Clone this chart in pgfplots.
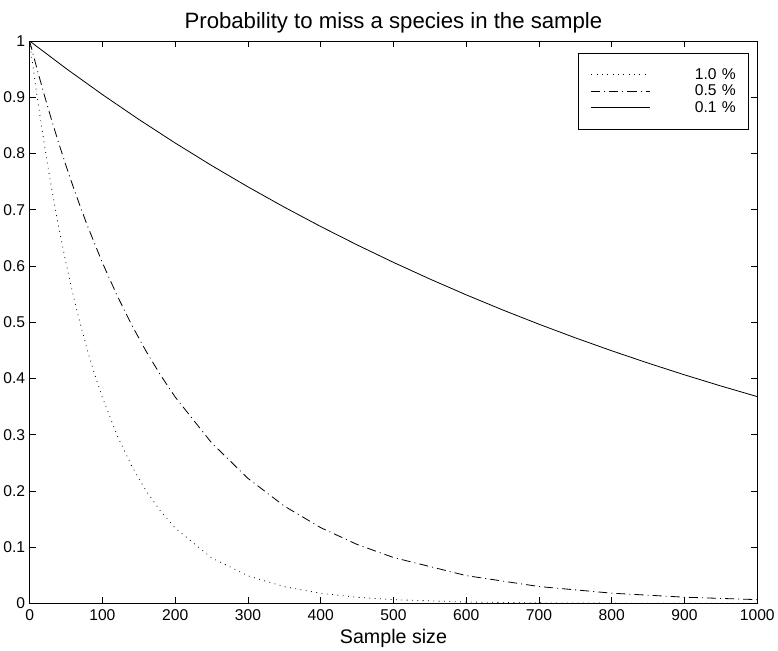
\documentclass[border=0pt]{standalone}
\usepackage{fontspec}
\setmainfont{Liberation Sans}
\usepackage{pgfplots}
\pgfplotsset{compat=1.18}
\begin{document}
\begin{tikzpicture}
\begin{axis}[width=722pt,height=558pt,scale only axis,
 xmin=0,xmax=1000,ymin=0,ymax=1,
 xtick={0,100,...,1000},ytick={0,0.1,...,1},
 yticklabels={0,0.1,0.2,0.3,0.4,0.5,0.6,0.7,0.8,0.9,1},
 tick align=inside,major tick length=6pt,
 /pgf/number format/assume math mode=true,
 /pgf/number format/set thousands separator={},
 scaled ticks=false,
 ticklabel style={font=\fontsize{15.5}{17}\selectfont},
 xticklabel style={yshift=-3pt},
 yticklabel style={xshift=-1pt},
 title={Probability to miss a species in the sample},
 title style={font=\fontsize{22}{24}\selectfont,inner ysep=12pt,yshift=-10pt},
 xlabel={Sample size},
 xlabel style={font=\fontsize{19.5}{21}\selectfont,yshift=-1pt},
 axis line style={line width=0.8pt},
 every tick/.style={line width=0.8pt,black},
 legend style={at={(1,1)},xshift=-8pt,yshift=-12pt,anchor=north east,
  font=\fontsize{15.5}{16}\selectfont,row sep=2pt,
  inner xsep=12pt,inner ysep=14pt,
  draw=black,line width=0.8pt,
  nodes={text width=84pt,align=right,inner sep=1pt}},
 legend image code/.code={\draw[#1] (0pt,0pt) -- (58pt,0pt);},
 legend cell align=right]
\addplot[black,line width=0.8pt,dash pattern=on 0.8pt off 4.5pt] coordinates {
 (0,1) (5,0.950990) (10,0.904382) (15,0.860058) (20,0.817907) (25,0.777821)
 (30,0.739700) (35,0.703443) (40,0.668971) (50,0.605006) (60,0.547157)
 (70,0.494839) (80,0.447523) (90,0.404732) (100,0.366032) (120,0.299380)
 (140,0.244865) (160,0.200277) (180,0.163808) (200,0.133979) (250,0.081058)
 (300,0.049041) (350,0.029670) (400,0.017951) (450,0.010860) (500,0.006570)
 (600,0.002405) (700,0.000880) (800,0.000322) (900,0.000118) (1000,0.000043)};
\addplot[black,line width=0.8pt,dash pattern=on 9pt off 4pt on 1pt off 4pt] coordinates {
 (0,1) (10,0.951110) (20,0.904610) (30,0.860384) (40,0.818319) (50,0.778313)
 (60,0.740260) (70,0.704070) (80,0.669646) (100,0.605770) (120,0.547986)
 (140,0.495713) (160,0.448427) (180,0.405652) (200,0.366957) (250,0.285607)
 (300,0.222292) (350,0.173013) (400,0.134657) (450,0.104805) (500,0.081571)
 (600,0.049413) (700,0.029933) (800,0.018133) (900,0.010984) (1000,0.006654)};
\addplot[black,line width=0.8pt] coordinates {
 (0,1) (50,0.951206) (100,0.904792) (150,0.860645) (200,0.818649)
 (250,0.778703) (300,0.740707) (350,0.704563) (400,0.670185) (450,0.637482)
 (500,0.606378) (550,0.576790) (600,0.548645) (650,0.521873) (700,0.496411)
 (750,0.472188) (800,0.449149) (850,0.427231) (900,0.406386) (950,0.386556)
 (1000,0.367695)};
\legend{1.0 \%,0.5 \%,0.1 \%}
\end{axis}
\end{tikzpicture}
\end{document}
